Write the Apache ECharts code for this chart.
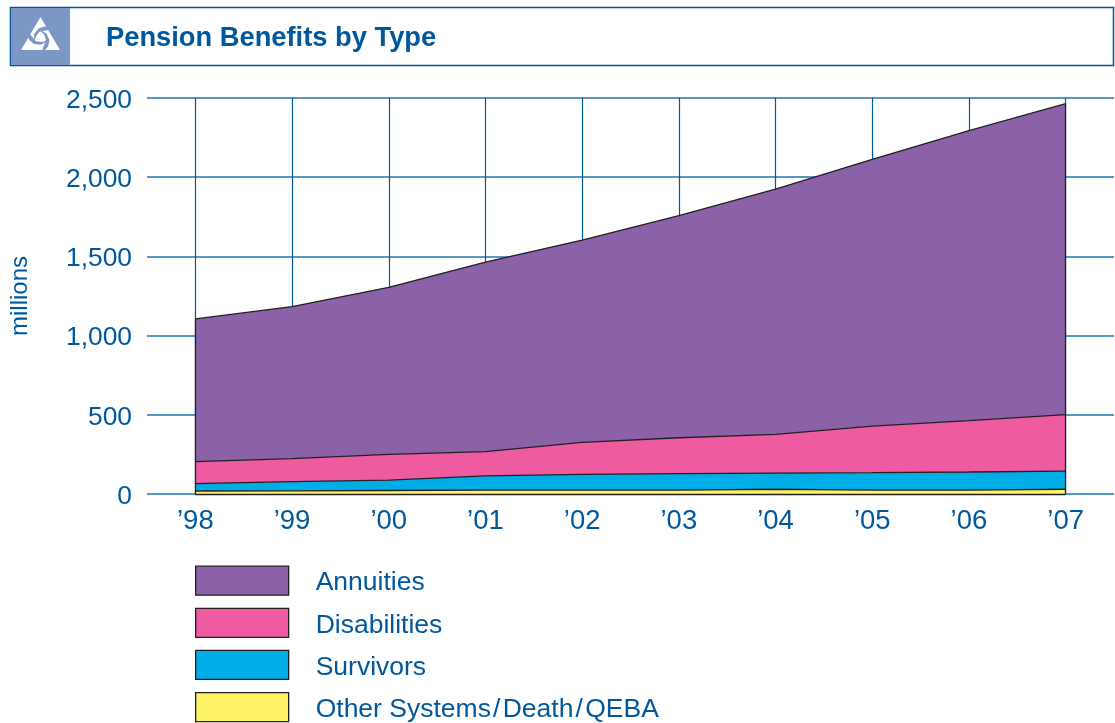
<!DOCTYPE html>
<html>
<head>
<meta charset="utf-8">
<title>Pension Benefits by Type</title>
<script src="https://cdn.jsdelivr.net/npm/echarts@6/dist/echarts.min.js"></script>
<style>
  html, body { margin: 0; padding: 0; background: #fff; }
  #chart { width: 1115px; height: 723px; }
</style>
</head>
<body>
<div id="chart"></div>
<script>
const years = ['’98', '’99', '’00', '’01', '’02', '’03', '’04', '’05', '’06', '’07']
const other = [19, 20, 22, 25, 25, 25, 30, 25, 25, 30]
const survivors = [46, 58, 66, 89, 99, 103, 102, 110, 114, 115]
const disabilities = [139, 145, 162, 153, 202, 227, 245, 294, 324, 356]
const annuities = [901, 960, 1055, 1197, 1277, 1402, 1548, 1684, 1831, 1963]
const yTicks = [0, 500, 1000, 1500, 2000, 2500]

const BLUE = '#00589c'
const GRID = '#2173b0'
const EDGE = '#231f20'
const LOGO = '#7d97c4'
const FONT = '"Liberation Sans", Arial, sans-serif'

const colors = {
  'Annuities': '#8b62a8',
  'Disabilities': '#ef5ba1',
  'Survivors': '#00aee7',
  'Other Systems\u200a/\u200aDeath\u200a/\u200aQEBA': '#fff467'
}
const names = Object.keys(colors)

const totals = years.map((y, i) => other[i] + survivors[i] + disabilities[i] + annuities[i])
const last = years.length - 1

function areaSeries (name, values) {
  return {
    name,
    type: 'line',
    stack: 'all',
    data: values,
    symbol: 'none',
    lineStyle: { color: EDGE, width: 1.3 },
    itemStyle: { color: colors[name] },
    areaStyle: { color: colors[name], opacity: 1 }
  }
}

const series = [
  areaSeries(names[3], other),
  areaSeries(names[2], survivors),
  areaSeries(names[1], disabilities),
  areaSeries(names[0], annuities)
]

// outline down the two ends and along the bottom of the stack
series[3].markLine = {
  silent: true,
  symbol: 'none',
  label: { show: false },
  lineStyle: { color: EDGE, width: 1.3, type: 'solid' },
  data: [
    [{ xAxis: years[0], yAxis: 0 }, { xAxis: years[0], yAxis: totals[0] }],
    [{ xAxis: years[last], yAxis: 0 }, { xAxis: years[last], yAxis: totals[last] }],
    [{ xAxis: years[0], yAxis: 0 }, { xAxis: years[last], yAxis: 0 }]
  ]
}

// swirl arm of the logo, turned three times round the middle
const armPoints = [[4, 13], [7.5, 9], [9, 3], [6, -4], [-1, -8], [3.5, -3], [5.5, 2], [3.5, 8], [1.5, 13]]
const logoArms = [0, 120, 240].map(deg => ({
  type: 'polygon',
  x: 40.5,
  y: 37.5,
  rotation: -deg * Math.PI / 180,
  shape: { points: armPoints },
  style: { fill: LOGO },
  z: 3
}))

const option = {
  animation: false,
  backgroundColor: '#fff',
  textStyle: { fontFamily: FONT },
  title: {
    text: 'Pension Benefits by Type',
    left: 101,
    top: 20,
    textStyle: { color: BLUE, fontSize: 27.3, fontWeight: 'bold', fontFamily: FONT }
  },
  graphic: [
    { type: 'rect', shape: { x: 10.5, y: 7.5, width: 1103, height: 58 }, style: { fill: '#fff', stroke: BLUE, lineWidth: 1.5 }, z: 0 },
    { type: 'rect', shape: { x: 11, y: 8, width: 59, height: 57 }, style: { fill: LOGO }, z: 1 },
    { type: 'polygon', shape: { points: [[40.5, 17], [21, 50], [60, 50]] }, style: { fill: '#fff' }, z: 2 }
  ].concat(logoArms),
  legend: {
    left: 195,
    top: 565.5,
    height: 175,
    padding: 0,
    orient: 'vertical',
    align: 'left',
    itemWidth: 93,
    itemHeight: 29,
    itemGap: 11,
    icon: 'rect',
    selectedMode: false,
    data: names.map(name => ({
      name,
      itemStyle: { color: colors[name], borderColor: EDGE, borderWidth: 1.3 }
    })),
    formatter: name => `{a|${name}}`,
    textStyle: {
      rich: {
        a: { color: BLUE, fontSize: 26.5, fontFamily: FONT, padding: [5, 0, 0, 22] }
      }
    }
  },
  grid: { left: 147, top: 98, width: 967, height: 396, outerBoundsMode: 'none' },
  xAxis: {
    type: 'category',
    data: years,
    boundaryGap: true,
    axisLine: { show: false },
    axisTick: { show: false },
    axisLabel: { color: BLUE, fontSize: 27.5, margin: 13, fontFamily: FONT },
    splitLine: { show: true, alignWithLabel: true, lineStyle: { color: BLUE, width: 1.2 } }
  },
  yAxis: {
    type: 'value',
    min: 0,
    max: yTicks[yTicks.length - 1],
    interval: yTicks[1] - yTicks[0],
    name: 'millions',
    nameLocation: 'middle',
    nameRotate: 90,
    nameGap: 115,
    nameTextStyle: { color: BLUE, fontSize: 24, fontFamily: FONT },
    axisLine: { show: false },
    axisTick: { show: false },
    axisLabel: {
      color: BLUE,
      fontSize: 26.4,
      margin: 15,
      verticalAlign: 'top',
      lineHeight: 5,
      fontFamily: FONT,
      formatter: v => v.toLocaleString('en-US')
    },
    splitLine: { show: true, lineStyle: { color: GRID, width: 1.5 } }
  },
  series
}

const chart = echarts.init(document.getElementById('chart'))
chart.setOption(option)
</script>
</body>
</html>
